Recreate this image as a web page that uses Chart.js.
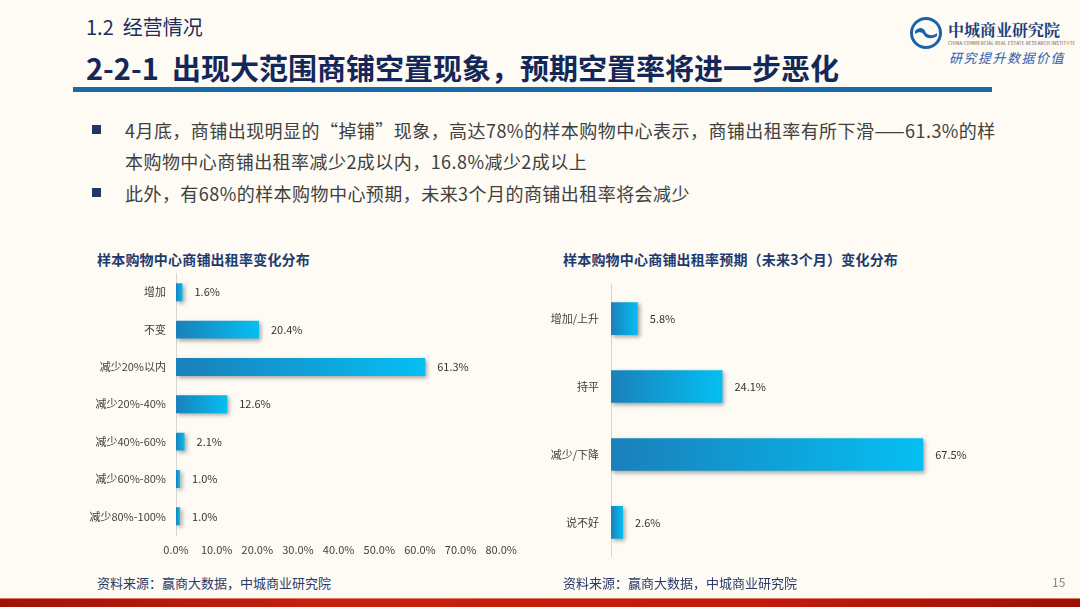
<!DOCTYPE html>
<html><head><meta charset="utf-8">
<script src="https://cdn.jsdelivr.net/npm/chart.js@4/dist/chart.umd.min.js"></script>
<style>
html,body{margin:0;padding:0}
body{width:1080px;height:607px;position:relative;overflow:hidden;background:#fdfbf3;font-family:"Noto Sans CJK SC","Noto Sans",sans-serif}
.abs{position:absolute;white-space:nowrap}
#sec{left:86px;top:14px;font-size:20px;color:#1f2d5a;line-height:26px}
#ttl{left:86px;top:47px;font-size:29px;font-weight:bold;color:#14275a;line-height:40px}
#rule{left:73px;top:87px;width:919px;height:5px;background:#1a6aa8}
.bul{left:92px;width:9px;height:9px;background:#1f3864}
.txt{left:125px;font-size:18px;color:#404040;line-height:24px;letter-spacing:0.45px}
.ct{font-size:14px;font-weight:bold;color:#1f3a6e;line-height:20px;letter-spacing:0.2px}
.src{font-size:13px;color:#2b3a6b;line-height:18px}
#pg{left:1052px;top:573px;font-size:12px;color:#8a8a8a}
#bar{left:0;top:598px;width:1080px;height:9px;background:linear-gradient(90deg,#a01208 0%,#c8200f 30%,#c41a0c 70%,#9c1007 100%);border-top:1px solid #e07a60}
canvas{position:absolute}
#logoTxt{left:948px;top:18px;font-size:16px;font-weight:bold;color:#1c3d7a;font-family:"Noto Serif CJK SC","Noto Sans CJK SC",serif}
#logoEn{left:948px;top:40px;font-size:4.5px;color:#555;letter-spacing:0.2px}
#logoSlo{left:949px;top:48px;font-size:13px;color:#2a62b0;font-style:italic;letter-spacing:1.5px}
</style></head>
<body>
<div class="abs" id="sec">1.2&nbsp; 经营情况</div>
<div class="abs" id="ttl">2-2-1&nbsp; 出现大范围商铺空置现象，预期空置率将进一步恶化</div>
<div class="abs" id="rule"></div>

<svg class="abs" style="left:909px;top:16px" width="34" height="34" viewBox="0 0 34 34">
<circle cx="17" cy="17" r="14.5" fill="none" stroke="#1a63a8" stroke-width="3"/>
<path d="M6 15 C10 10,15 12,16 15 C17 19,23 21,28 17 L28 20 C23 24,16 22,15 19 C14 16,10 15,6 18 Z" fill="#1a63a8"/>
</svg>
<div class="abs" id="logoTxt">中城商业研究院</div>
<div class="abs" id="logoEn">CHINA COMMERCIAL REAL ESTATE RESEARCH INSTITUTE</div>
<div class="abs" id="logoSlo">研究提升数据价值</div>

<div class="abs bul" style="top:125px"></div>
<div class="abs txt" style="top:118px">4月底，商铺出现明显的“掉铺”现象，高达78%的样本购物中心表示，商铺出租率有所下滑——61.3%的样</div>
<div class="abs txt" style="top:149px">本购物中心商铺出租率减少2成以内，16.8%减少2成以上</div>
<div class="abs bul" style="top:188px"></div>
<div class="abs txt" style="top:181px">此外，有68%的样本购物中心预期，未来3个月的商铺出租率将会减少</div>

<div class="abs ct" style="left:97px;top:249px">样本购物中心商铺出租率变化分布</div>
<div class="abs ct" style="left:563px;top:249px">样本购物中心商铺出租率预期（未来3个月）变化分布</div>

<canvas id="c1" width="445" height="311" style="left:80px;top:257px;width:445px;height:311px"></canvas>
<canvas id="c2" width="460" height="309" style="left:540px;top:266px;width:460px;height:309px"></canvas>

<div class="abs src" style="left:97px;top:574px">资料来源：赢商大数据，中城商业研究院</div>
<div class="abs src" style="left:563px;top:574px">资料来源：赢商大数据，中城商业研究院</div>
<div class="abs" id="pg">15</div>
<div class="abs" id="bar"></div>

<script>
const leftCategories = ['增加','不变','减少20%以内','减少20%-40%','减少40%-60%','减少60%-80%','减少80%-100%'];
const leftValues = [1.6, 20.4, 61.3, 12.6, 2.1, 1.0, 1.0];
const rightCategories = ['增加/上升','持平','减少/下降','说不好'];
const rightValues = [5.8, 24.1, 67.5, 2.6];
const axisMin = 0, axisMax = 80, axisStep = 10;

const FONT = '"Noto Sans CJK SC","Noto Sans",sans-serif';

function barFill(ctx){
  const chart = ctx.chart;
  if(!chart.chartArea || ctx.raw === undefined) return '#0aa6e0';
  const x0 = chart.scales.x.getPixelForValue(0);
  const x1 = Math.max(chart.scales.x.getPixelForValue(ctx.raw), x0 + 1);
  const g = chart.ctx.createLinearGradient(x0, 0, x1, 0);
  g.addColorStop(0, '#1a80bb');
  g.addColorStop(1, '#05bff2');
  return g;
}

const shadowPlugin = {
  id: 'shadow',
  beforeDatasetsDraw(chart){
    const c = chart.ctx; c.save();
    c.shadowColor = 'rgba(0,0,0,0.35)'; c.shadowBlur = 4; c.shadowOffsetX = 2; c.shadowOffsetY = 2;
  },
  afterDatasetsDraw(chart){ chart.ctx.restore(); }
};
const labelPlugin = {
  id: 'vlabels',
  afterDraw(chart){
    const c = chart.ctx;
    const meta = chart.getDatasetMeta(0);
    const data = chart.data.datasets[0].data;
    c.save();
    c.font = '11px ' + FONT; c.fillStyle = '#333'; c.textBaseline = 'middle'; c.textAlign = 'left';
    meta.data.forEach((el, i) => { c.fillText(data[i].toFixed(1) + '%', el.x + 12, el.y); });
    c.restore();
  }
};

function makeChart(id, cats, vals, opts){
  return new Chart(document.getElementById(id), {
    type: 'bar',
    data: { labels: cats, datasets: [{ data: vals, backgroundColor: barFill, borderWidth: 0, barPercentage: 0.48, categoryPercentage: 1 }] },
    options: {
      indexAxis: 'y', responsive: false, animation: false,
      layout: { padding: opts.padding },
      plugins: { legend: { display: false }, tooltip: { enabled: false } },
      scales: {
        x: {
          display: opts.showX, min: axisMin, max: axisMax,
          grid: { display: false, drawTicks: false },
          border: { display: false },
          ticks: { stepSize: axisStep, padding: 8, color: '#404040', font: { size: 11, family: FONT }, callback: v => Number(v).toFixed(1) + '%', maxRotation: 0 },
          afterFit: s => { if (opts.showX) s.height = 33; }
        },
        y: {
          grid: { display: false, drawTicks: false },
          border: { display: true, color: '#d6d6d6', width: 1 },
          ticks: { padding: opts.yPad, color: '#404040', font: { size: 11, family: FONT } },
          afterFit: s => { s.width = opts.yWidth; }
        }
      }
    },
    plugins: [shadowPlugin, labelPlugin]
  });
}

makeChart('c1', leftCategories, leftValues, { padding: { top: 5, right: 14, left: 0, bottom: 0 }, showX: true, yWidth: 96, yPad: 10 });
makeChart('c2', rightCategories, rightValues, { padding: { top: 4, right: 19, left: 0, bottom: 0 }, showX: false, yWidth: 71, yPad: 12 });
</script>
</body></html>
